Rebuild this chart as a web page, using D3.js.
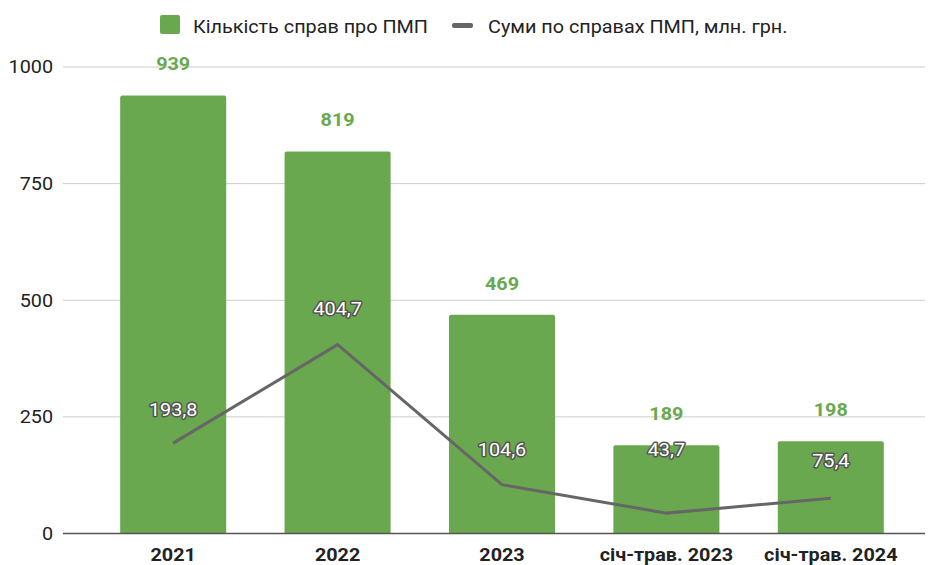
<!DOCTYPE html>
<html><head><meta charset="utf-8">
<script src="https://cdn.jsdelivr.net/npm/d3@7/dist/d3.min.js"></script>
<style>body{margin:0;background:#fff;}svg{display:block;font-family:Roboto,"Noto Sans",sans-serif;}</style>
</head><body><svg id="c" width="929" height="565"></svg>
<script>
const categories = ["2021", "2022", "2023", "січ-трав. 2023", "січ-трав. 2024"];
const casesCount = [939, 819, 469, 189, 198];
const sums = [193.8, 404.7, 104.6, 43.7, 75.4];
const sumLabels = ["193,8", "404,7", "104,6", "43,7", "75,4"];
const yTicks = [0, 250, 500, 750, 1000];
const seriesNames = ["Кількість справ про ПМП", "Суми по справах ПМП, млн. грн."];

const green = "#6aa84f", lineCol = "#666666", fs = 18.5;
const svg = d3.select("#c");
const x = d3.scaleBand().domain(categories).range([91, 913]).paddingInner(0.355).paddingOuter(0.1775);
const y = d3.scaleLinear().domain([0, 1000]).range([533.5, 67]);

// gridlines
svg.append("g").selectAll("line").data(yTicks.filter(d => d > 0)).join("line")
  .attr("x1", 63).attr("x2", 925).attr("y1", d => y(d)).attr("y2", d => y(d))
  .attr("stroke", "#cccccc").attr("stroke-width", 1);

// y axis labels
const yAxis = d3.axisLeft(y).tickValues(yTicks).tickFormat(d3.format("d")).tickSize(0).tickPadding(0);
const ga = svg.append("g").attr("transform", "translate(53,0)").call(yAxis);
ga.select(".domain").remove();
ga.selectAll("text").attr("font-size", fs).attr("fill", "#222").attr("font-family", "Roboto");

// bars
svg.append("g").selectAll("path").data(casesCount).join("path")
  .attr("d", (d, i) => {
    const x0 = x(categories[i]), w = x.bandwidth(), y0 = y(d), h = y(0) - y(d), r = 2;
    return `M${x0},${y0 + h}V${y0 + r}Q${x0},${y0} ${x0 + r},${y0}H${x0 + w - r}Q${x0 + w},${y0} ${x0 + w},${y0 + r}V${y0 + h}Z`;
  })
  .attr("fill", green);

// baseline
svg.append("line").attr("x1", 63).attr("x2", 925).attr("y1", y(0)).attr("y2", y(0))
  .attr("stroke", "#555").attr("stroke-width", 1.5);

// x axis labels
const xAxis = d3.axisBottom(x).tickSize(0).tickPadding(0);
const gx = svg.append("g").attr("transform", `translate(0,${y(0)})`).call(xAxis);
gx.select(".domain").remove();
gx.selectAll("text").attr("font-size", fs).attr("font-weight", "bold").attr("fill", "#222")
  .attr("font-family", "Roboto").attr("dy", null).attr("y", 27);

// bar labels
svg.append("g").selectAll("text").data(casesCount).join("text")
  .attr("x", (d, i) => x(categories[i]) + x.bandwidth() / 2)
  .attr("y", d => y(d) - 25)
  .attr("text-anchor", "middle").attr("font-size", fs).attr("font-weight", "bold")
  .attr("fill", green).text(d => d);

// line
const cx = i => x(categories[i]) + x.bandwidth() / 2;
svg.append("path").datum(sums)
  .attr("d", d3.line().x((d, i) => cx(i)).y(d => y(d)))
  .attr("fill", "none").attr("stroke", lineCol).attr("stroke-width", 3);

// line labels
const labelLift = [27, 30, 29, 57, 31];
svg.append("g").selectAll("text").data(sums).join("text")
  .attr("x", (d, i) => cx(i)).attr("y", (d, i) => y(d) - labelLift[i])
  .attr("text-anchor", "middle").attr("font-size", fs)
  .attr("fill", "#fff").attr("stroke", "#555").attr("stroke-width", 3)
  .attr("stroke-linejoin", "round").attr("paint-order", "stroke")
  .text((d, i) => sumLabels[i]);

// legend
const lg = svg.append("g");
lg.append("rect").attr("x", 160).attr("y", 15).attr("width", 20).attr("height", 19).attr("rx", 2).attr("fill", green);
lg.append("text").attr("x", 193).attr("y", 33).attr("font-size", fs).attr("fill", "#222").text(seriesNames[0]);
lg.append("rect").attr("x", 452).attr("y", 23).attr("width", 21).attr("height", 5).attr("rx", 2).attr("fill", lineCol);
lg.append("text").attr("x", 488).attr("y", 33).attr("font-size", fs).attr("fill", "#222").text(seriesNames[1]);

// slight horizontal widening of glyphs to match the reference rendering
svg.selectAll("text").each(function () {
  const w = this.getComputedTextLength();
  d3.select(this).attr("textLength", w * 1.07).attr("lengthAdjust", "spacingAndGlyphs");
});
</script></body></html>
